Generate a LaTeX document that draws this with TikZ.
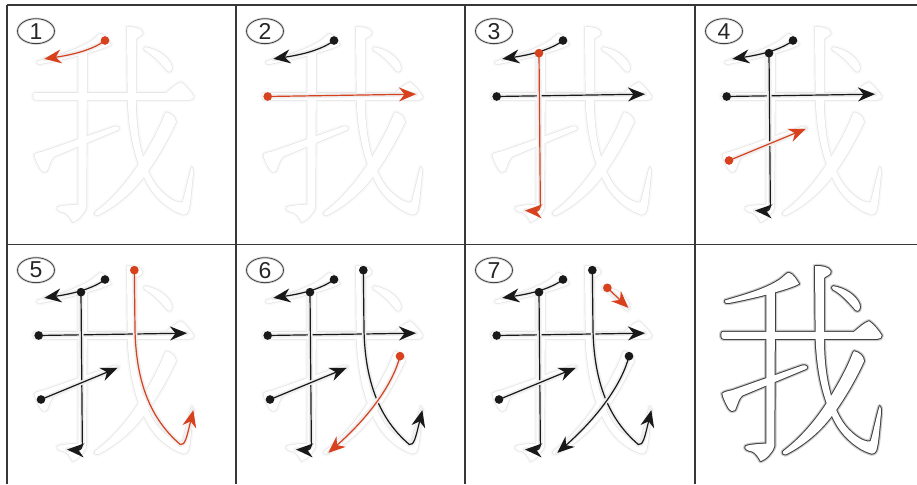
\documentclass[tikz,border=0pt]{standalone}
\usepackage{fontspec}
\setmainfont{Liberation Sans}
\usetikzlibrary{arrows.meta,shapes.geometric}
\definecolor{sred}{RGB}{215,65,30}
\definecolor{sblk}{RGB}{25,25,25}
\definecolor{gridc}{RGB}{55,55,55}
\tikzset{
  halo/.style={draw=gray!13,line width=4.5pt,line cap=round},
  sline/.style={line width=1.2pt,-{Stealth[length=17pt,width=14pt,inset=5.5pt]}},
  numbox/.style={ellipse,draw=black!75,line width=0.8pt,minimum width=37pt,minimum height=25pt,inner sep=0pt,
     text=black!85,font=\fontsize{23}{23}\selectfont,
     preaction={draw=gray!25,line width=2.6pt}},
  gridline/.style={draw=gridc,line width=1.4pt}
}
% glyph outline, in 3x-zoom cell coordinates
\newcommand\glyphshape[1]{%
 \path[#1] (108,183) .. controls (150,170) and (230,150) .. (275,118) .. controls (288,108) and (293,100) .. (300,100)
   .. controls (312,102) and (325,125) .. (330,133) .. controls (300,150) and (200,175) .. (122,190)
   .. controls (110,192) and (105,188) .. cycle;
 \path[#1] (232,150) -- (232,612) .. controls (205,614) and (180,615) .. (170,620) .. controls (165,628) and (175,633) .. (190,636)
   .. controls (200,640) and (210,655) .. (215,665) .. controls (230,660) and (250,640) .. (256,620) -- (258,150) -- cycle;
 \path[#1] (97,283) .. controls (97,278) and (100,277) .. (105,277) -- (495,277) .. controls (510,265) and (525,250) .. (540,245)
   .. controls (555,255) and (570,275) .. (578,288) .. controls (578,295) and (573,298) .. (565,298) -- (105,298)
   .. controls (100,298) and (97,296) .. (97,290) -- cycle;
 \path[#1] (100,462) .. controls (110,455) and (120,455) .. (130,452) -- (340,378) .. controls (352,376) and (358,382) .. (352,388)
   -- (160,468) .. controls (150,475) and (145,495) .. (138,512) .. controls (132,518) and (125,515) .. (118,505)
   .. controls (110,490) and (102,475) .. cycle;
 \path[#1] (378,80) .. controls (395,78) and (420,82) .. (425,95) .. controls (428,105) and (410,110) .. (405,115) -- (405,300)
   .. controls (405,420) and (430,510) .. (470,560) .. controls (500,595) and (530,610) .. (545,605)
   .. controls (555,570) and (565,520) .. (572,500) .. controls (578,505) and (576,520) .. (574,540)
   .. controls (570,580) and (568,610) .. (562,632) .. controls (558,642) and (550,645) .. (540,640)
   .. controls (510,630) and (470,600) .. (445,560) .. controls (410,500) and (385,420) .. (380,300) -- cycle;
 \path[#1] (495,335) .. controls (510,338) and (525,350) .. (525,365) .. controls (500,420) and (460,490) .. (420,540)
   .. controls (380,590) and (330,625) .. (290,645) .. controls (282,646) and (278,640) .. (284,634)
   .. controls (330,600) and (380,545) .. (420,480) .. controls (450,430) and (475,385) .. (490,345) -- cycle;
 \path[#1] (432,140) .. controls (465,145) and (500,165) .. (512,195) .. controls (515,210) and (508,218) .. (500,212)
   .. controls (485,195) and (460,165) .. (432,150) .. controls (428,148) and (428,141) .. cycle;
}
\newcommand\glyph[3]{% halo colour, line colour, line width
 \glyphshape{draw=#1,line width=4.4pt,line join=round}
 \glyphshape{draw=#2,line width=#3,line join=round}
 \glyphshape{fill=white}
}
% strokes
\newcommand\sOne[1]{%
 \draw[halo] (312,120) .. controls (270,152) and (200,165) .. (130,175);
 \draw[sline,#1] (312,120) .. controls (270,152) and (200,165) .. (130,175);
 \fill[#1] (312,120) circle[radius=13];}
\newcommand\sTwo[1]{%
 \draw[halo] (113,288) -- (558,281);
 \draw[sline,#1] (113,288) -- (558,281);
 \fill[#1] (113,288) circle[radius=13];}
\newcommand\sThree[1]{%
 \draw[halo] (240,158) -- (244,605) .. controls (246,628) and (236,632) .. (198,630);
 \draw[sline,#1] (240,158) -- (244,605) .. controls (246,628) and (236,632) .. (198,630);
 \fill[#1] (240,158) circle[radius=13];}
\newcommand\sFour[1]{%
 \draw[halo] (120,480) -- (350,385);
 \draw[sline,#1] (120,480) -- (350,385);
 \fill[#1] (120,480) circle[radius=13];}
\newcommand\sFive[1]{%
 \draw[halo] (400,92) -- (402,270) .. controls (405,430) and (450,540) .. (538,615) .. controls (552,620) and (558,590) .. (577,512);
 \draw[sline,#1] (400,92) -- (402,270) .. controls (405,430) and (450,540) .. (538,615) .. controls (552,620) and (558,590) .. (577,512);
 \fill[#1] (400,92) circle[radius=13];}
\newcommand\sSix[1]{%
 \draw[halo] (510,350) .. controls (490,430) and (420,530) .. (295,640);
 \draw[sline,#1] (510,350) .. controls (490,430) and (420,530) .. (295,640);
 \fill[#1] (510,350) circle[radius=13];}
\newcommand\sSeven[1]{%
 \draw[halo] (445,145) -- (508,205);
 \draw[sline,#1] (445,145) -- (508,205);
 \fill[#1] (445,145) circle[radius=13];}
\newcommand\lightglyph{\glyph{gray!5}{gray!22}{1.4pt}}
\begin{document}
\begin{tikzpicture}[x=1pt,y=-1pt]
\useasboundingbox (0,0) rectangle (917,484);
\fill[white] (0,0) rectangle (917,484);
% cell 1
\begin{scope}[shift={(1,0.5)},scale=1/3]
 \lightglyph
 \sOne{sred}
 \node[numbox] (n1) at (105,92) {1};
\end{scope}
% cell 2
\begin{scope}[shift={(230,0.5)},scale=1/3]
 \lightglyph
 \sOne{sblk}\sTwo{sred}
 \node[numbox] (n2) at (105,92) {2};
\end{scope}
% cell 3
\begin{scope}[shift={(459,0.5)},scale=1/3]
 \lightglyph
 \sOne{sblk}\sTwo{sblk}\sThree{sred}
 \node[numbox] (n3) at (105,92) {3};
\end{scope}
% cell 4
\begin{scope}[shift={(689,0.5)},scale=1/3]
 \lightglyph
 \sOne{sblk}\sTwo{sblk}\sThree{sblk}\sFour{sred}
 \node[numbox] (n4) at (105,92) {4};
\end{scope}
% cell 5
\begin{scope}[shift={(1,239.5)},scale=1/3]
 \lightglyph
 \sOne{sblk}\sTwo{sblk}\sThree{sblk}\sFour{sblk}\sFive{sred}
 \node[numbox] (n5) at (105,92) {5};
\end{scope}
% cell 6
\begin{scope}[shift={(230,239.5)},scale=1/3]
 \lightglyph
 \sOne{sblk}\sTwo{sblk}\sThree{sblk}\sFour{sblk}\sFive{sblk}\sSix{sred}
 \node[numbox] (n6) at (105,92) {6};
\end{scope}
% cell 7
\begin{scope}[shift={(459,239.5)},scale=1/3]
 \lightglyph
 \sOne{sblk}\sTwo{sblk}\sThree{sblk}\sFour{sblk}\sFive{sblk}\sSix{sblk}\sSeven{sred}
 \node[numbox] (n7) at (105,92) {7};
\end{scope}
% cell 8
\begin{scope}[shift={(689,239.5)},scale=1/3]
 \glyph{gray!40}{black!75}{2pt}
\end{scope}
% grid
\draw[gridline] (7,5) -- (917,5);
\draw[gridline] (7,244.5) -- (917,244.5);
\draw[gridline] (7,5) -- (7,484);
\draw[gridline] (236,5) -- (236,484);
\draw[gridline] (465,5) -- (465,484);
\draw[gridline] (695,5) -- (695,484);
\end{tikzpicture}
\end{document}
